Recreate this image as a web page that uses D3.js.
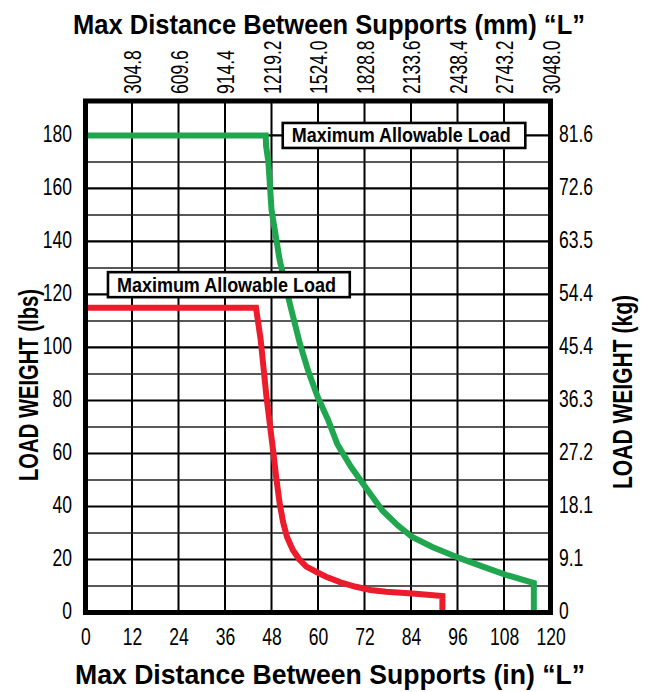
<!DOCTYPE html>
<html><head><meta charset="utf-8">
<script src="https://cdn.jsdelivr.net/npm/d3@7"></script>
<style>
body{margin:0;background:#fff}
text{font-family:"Liberation Sans",Arial,Helvetica,sans-serif;fill:#000}
</style>
</head><body>
<svg id="chart" width="651" height="692"></svg>
<script>
// ---------- data ----------
const xTicksIn = [0, 12, 24, 36, 48, 60, 72, 84, 96, 108, 120];
const topTicksIn = [12, 24, 36, 48, 60, 72, 84, 96, 108, 120];
const topTickLabelsMm = ["304.8", "609.6", "914.4", "1219.2", "1524.0", "1828.8", "2133.6", "2438.4", "2743.2", "3048.0"];
const yTicksLbs = [0, 20, 40, 60, 80, 100, 120, 140, 160, 180];
const yMinorLbs = [10, 30, 50, 70, 90, 110, 130, 150, 170];
const rightTickLabelsKg = ["0", "9.1", "18.1", "27.2", "36.3", "45.4", "54.4", "63.5", "72.6", "81.6"];

const greenX = [0, 46.5, 46.6, 47.2, 48.0, 50.1, 52.9, 55.3, 57.5, 59.9, 62.5, 65.0, 68.5, 72.5, 76.6, 80.5, 84.3, 89.5, 96.4, 102.0, 108.5, 115.7, 115.7];
const greenY = [180, 180, 176, 170, 152, 133, 115.5, 101.6, 91, 81.4, 73, 63.5, 55, 46.8, 38.5, 33, 28.5, 24.7, 20.6, 17.6, 14.2, 11.1, 0];
const redX = [0, 44.0, 45.2, 46.7, 48.4, 49.2, 50.1, 51.0, 52.0, 53.5, 55.2, 57.0, 60.0, 62.1, 66.0, 69.8, 73.5, 77.6, 84.4, 92.1, 92.1];
const redY = [115, 115, 103, 81.4, 61.3, 51.2, 41.2, 34.0, 28.5, 23.6, 20.0, 17.3, 15.0, 13.5, 11.3, 9.7, 8.5, 7.8, 7.2, 6.2, 0];

const annotationText = "Maximum Allowable Load";
const titleTop = "Max Distance Between Supports (mm) \u201CL\u201D";
const titleBottom = "Max Distance Between Supports (in) \u201CL\u201D";
const titleLeft = "LOAD WEIGHT (lbs)";
const titleRight = "LOAD WEIGHT (kg)";

// ---------- layout ----------
const svg = d3.select("#chart");
const x = d3.scaleLinear().domain([0, 120]).range([85.5, 550.5]);
const y = d3.scaleLinear().domain([0, 193]).range([612.5, 101]);
const GREEN = "#1fa64f", RED = "#ec1c2d";

function condense(sel, f) {
  sel.each(function () {
    const w = this.getComputedTextLength();
    d3.select(this).attr("textLength", w * f).attr("lengthAdjust", "spacingAndGlyphs");
  });
}

// grid
const grid = svg.append("g");
grid.selectAll("line.v").data(xTicksIn.slice(1, -1)).join("line")
  .attr("x1", d => x(d)).attr("x2", d => x(d))
  .attr("y1", y.range()[1]).attr("y2", y.range()[0])
  .attr("stroke", "#000").attr("stroke-width", 2);
grid.selectAll("line.mi").data(yMinorLbs).join("line")
  .attr("x1", x.range()[0]).attr("x2", x.range()[1])
  .attr("y1", d => y(d)).attr("y2", d => y(d))
  .attr("stroke", "#222").attr("stroke-width", 1.6);
grid.selectAll("line.ma").data(yTicksLbs.slice(1)).join("line")
  .attr("x1", x.range()[0]).attr("x2", x.range()[1])
  .attr("y1", d => y(d)).attr("y2", d => y(d))
  .attr("stroke", "#000").attr("stroke-width", 2.2);

// curves
const line = d3.line().x(d => x(d[0])).y(d => y(d[1])).curve(d3.curveLinear);
svg.append("path").datum(greenX.map((v, i) => [v, greenY[i]]))
  .attr("d", line).attr("fill", "none").attr("stroke", GREEN)
  .attr("stroke-width", 6).attr("stroke-linejoin", "miter");
svg.append("path").datum(redX.map((v, i) => [v, redY[i]]))
  .attr("d", line).attr("fill", "none").attr("stroke", RED)
  .attr("stroke-width", 6).attr("stroke-linejoin", "miter");

// annotation boxes
const boxes = [
  { x0: 50.9, x1: 113.5, yc: 180 },
  { x0: 5.8, x1: 68.2, yc: 123.7 }
];
boxes.forEach(b => {
  const g = svg.append("g");
  const yc = y(b.yc);
  g.append("rect").attr("x", x(b.x0)).attr("y", yc - 12.5)
    .attr("width", x(b.x1) - x(b.x0)).attr("height", 25)
    .attr("fill", "#fff").attr("stroke", "#000").attr("stroke-width", 2.6);
  g.append("text").attr("x", x(b.x0) + 9).attr("y", yc + 7)
    .attr("font-size", 20).attr("font-weight", "bold")
    .attr("textLength", 219).attr("lengthAdjust", "spacingAndGlyphs")
    .text(annotationText);
});

// border
svg.append("rect").attr("x", x.range()[0]).attr("y", y.range()[1])
  .attr("width", x.range()[1] - x.range()[0]).attr("height", y.range()[0] - y.range()[1])
  .attr("fill", "none").attr("stroke", "#000").attr("stroke-width", 5);

// axes
const FS = 24, CF = 0.73;
const axLeft = svg.append("g").attr("transform", `translate(${x.range()[0]},0)`)
  .call(d3.axisLeft(y).tickValues(yTicksLbs).tickSize(0).tickPadding(13.5));
const axRight = svg.append("g").attr("transform", `translate(${x.range()[1]},0)`)
  .call(d3.axisRight(y).tickValues(yTicksLbs).tickSize(0).tickPadding(8.5)
    .tickFormat((d, i) => rightTickLabelsKg[i]));
const axBottom = svg.append("g").attr("transform", `translate(0,${y.range()[0]})`)
  .call(d3.axisBottom(x).tickValues(xTicksIn).tickSize(0).tickPadding(15));
const axTop = svg.append("g").attr("transform", `translate(0,${y.range()[1]})`)
  .call(d3.axisTop(x).tickValues(topTicksIn).tickSize(0)
    .tickFormat((d, i) => topTickLabelsMm[i]));
const allAxes = [axLeft, axRight, axBottom, axTop];
allAxes.forEach(a => {
  a.select(".domain").remove();
  a.selectAll("text").attr("font-size", FS).attr("font-family", null).attr("fill", "#000");
});
axLeft.selectAll("text").attr("dy", "0.26em");
axRight.selectAll("text").attr("dy", "0.26em");
axTop.selectAll("text").attr("transform", "rotate(-90)")
  .attr("x", 7).attr("y", 0).attr("dy", "0.36em").attr("text-anchor", "start");
allAxes.forEach(a => condense(a.selectAll("text"), CF));

// titles
svg.append("text").attr("x", 73).attr("y", 34).attr("font-size", 27).attr("font-weight", "bold")
  .attr("textLength", 512).attr("lengthAdjust", "spacingAndGlyphs").text(titleTop);
svg.append("text").attr("x", 75).attr("y", 684).attr("font-size", 27).attr("font-weight", "bold")
  .attr("textLength", 510).attr("lengthAdjust", "spacingAndGlyphs").text(titleBottom);
svg.append("text").attr("transform", "translate(38,385) rotate(-90)").attr("text-anchor", "middle")
  .attr("font-size", 28).attr("font-weight", "bold")
  .attr("textLength", 192).attr("lengthAdjust", "spacingAndGlyphs").text(titleLeft);
svg.append("text").attr("transform", "translate(632,392) rotate(-90)").attr("text-anchor", "middle")
  .attr("font-size", 28).attr("font-weight", "bold")
  .attr("textLength", 194).attr("lengthAdjust", "spacingAndGlyphs").text(titleRight);
</script>
</body></html>
